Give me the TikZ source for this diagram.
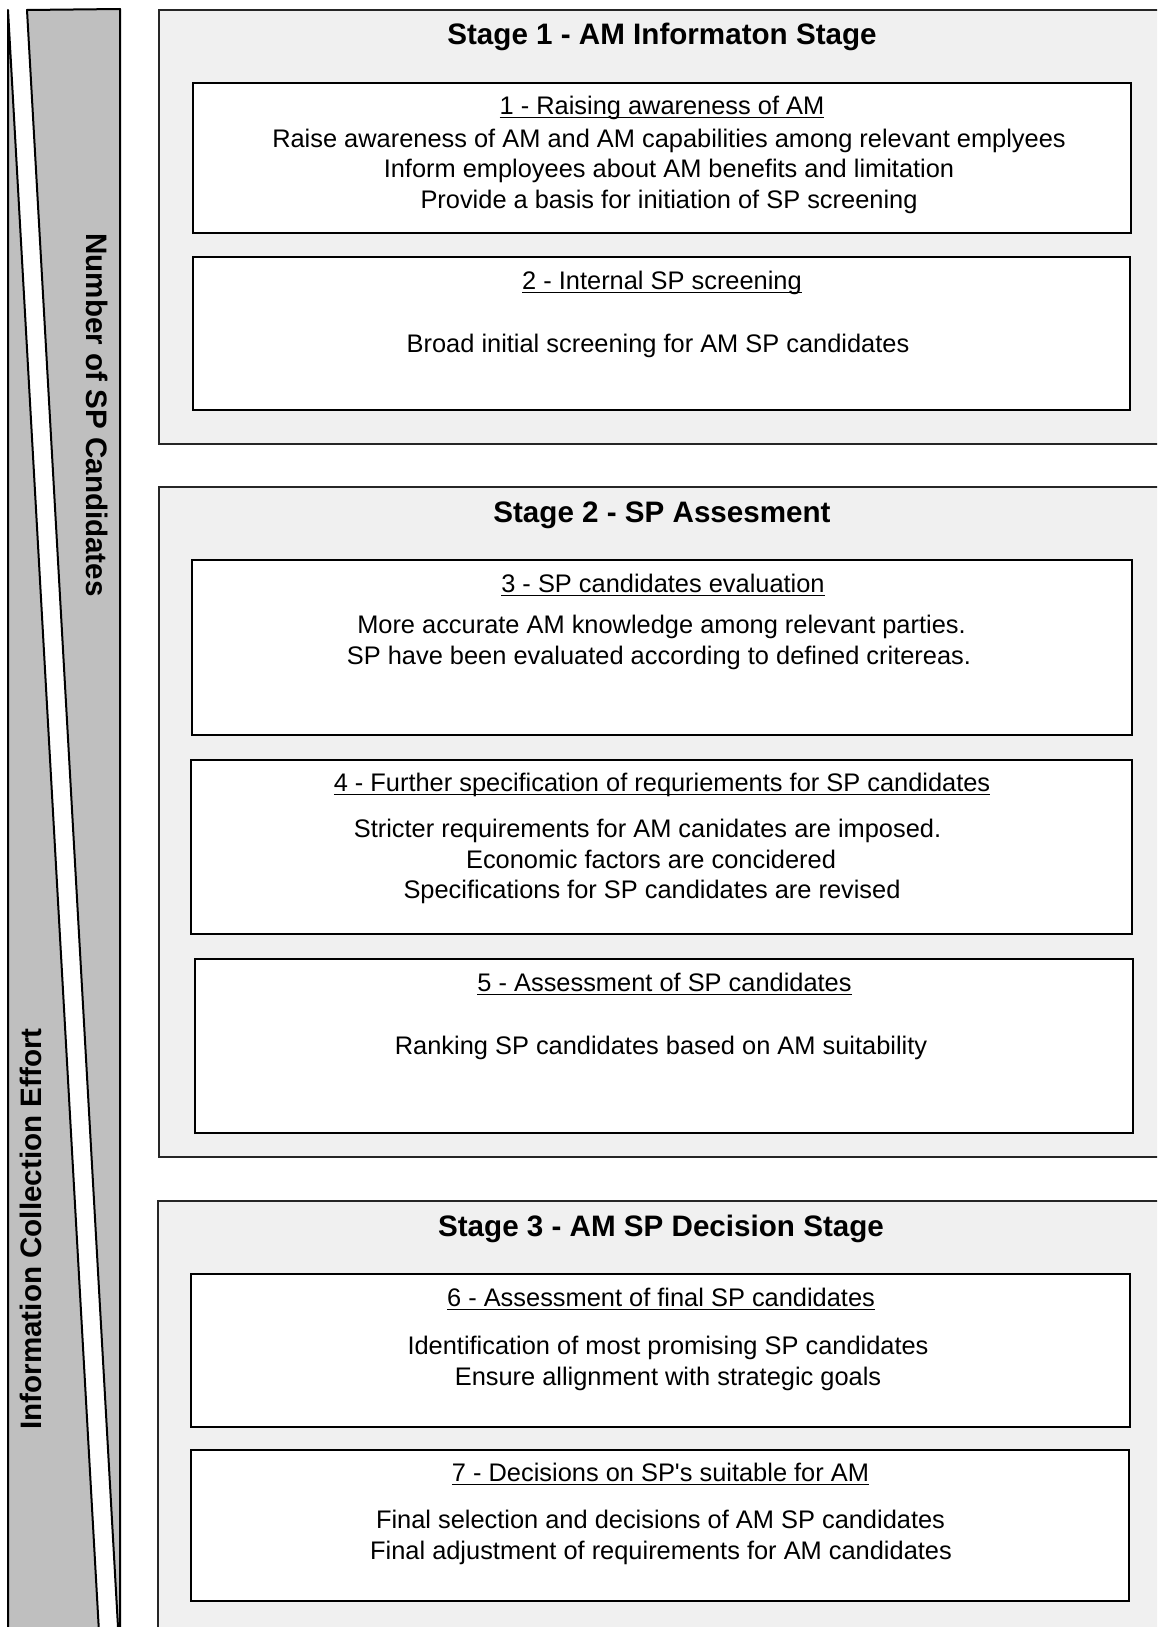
\documentclass[tikz,border=0pt]{standalone}
\usepackage{fontspec}
\setmainfont{Liberation Sans}
\newcommand\myul[1]{\underline{\smash{#1}}\vphantom{#1}}
\begin{document}
\begin{tikzpicture}[x=0.5pt,y=-0.5pt,
  stagebox/.style={draw=black!85, fill=black!6, line width=1pt},
  itembox/.style={draw=black, fill=white, line width=1pt, inner sep=0pt, outer sep=0pt},
  wedge/.style={draw=black, fill=black!25, line width=1pt, line join=round},
  stagetitle/.style={font=\fontsize{14.8}{17}\selectfont\bfseries, inner sep=0pt, text height=0.75em, text depth=0.25em, yshift=-2.3pt},
  itemtitle/.style={font=\fontsize{12.7}{15}\selectfont, inner sep=0pt, text height=0.75em, text depth=0.25em, yshift=-2.3pt},
  itemtext/.style={font=\fontsize{12.7}{15}\selectfont, inner sep=0pt, text height=0.75em, text depth=0.25em, yshift=-2.3pt},
  sidetext/.style={font=\fontsize{14.8}{17}\selectfont\bfseries, inner sep=0pt}]
\useasboundingbox (0,0) rectangle (1157,1627);
\clip (0,0) rectangle (1157,1627);
\fill[white] (0,0) rectangle (1157,1627);

% wedges
\draw[wedge] (8,10) -- (100,1650) -- (8,1650) -- cycle;
\draw[wedge] (27,10) -- (120,9) -- (120,1650) -- (119.3,1650) -- cycle;
\node[sidetext, rotate=-90] (nsp) at (97,415) {Number of SP Candidates};
\node[sidetext, rotate=90] (ice) at (31,1229) {Information Collection Effort};

% stage boxes
\draw[stagebox] (159,10) rectangle (1185,444);
\draw[stagebox] (159,487) rectangle (1185,1157);
\draw[stagebox] (158,1201) rectangle (1185,1660);

\node[stagetitle] (s1) at (662,35) {Stage 1 - AM Informaton Stage};
\node[stagetitle] (s2) at (662,513) {Stage 2 - SP Assesment};
\node[stagetitle] (s3) at (661,1227) {Stage 3 - AM SP Decision Stage};

% item boxes
\node[itembox, minimum width=469pt, minimum height=75pt] (b1) at (662,158) {};
\node[itembox, minimum width=468.5pt, minimum height=76.5pt] (b2) at (661.5,333.5) {};
\node[itembox, minimum width=470pt, minimum height=87.5pt] (b3) at (662,647.5) {};
\node[itembox, minimum width=470.5pt, minimum height=87pt] (b4) at (661.5,847) {};
\node[itembox, minimum width=469pt, minimum height=87pt] (b5) at (664,1046) {};
\node[itembox, minimum width=469.5pt, minimum height=76.5pt] (b6) at (660.5,1350.5) {};
\node[itembox, minimum width=469pt, minimum height=75.5pt] (b7) at (660,1525.5) {};

% box 1
\node[itemtitle] (t1) at (662,105) {\myul{1 - Raising awareness of AM}};
\node[itemtext] (t1a) at (669,138) {Raise awareness of AM and AM capabilities among relevant emplyees};
\node[itemtext] (t1b) at (669,168) {Inform employees about AM benefits and limitation};
\node[itemtext] (t1c) at (669,199) {Provide a basis for initiation of SP screening};
% box 2
\node[itemtitle] (t2) at (662,280) {\myul{2 - Internal SP screening}};
\node[itemtext] (t2a) at (658,343) {Broad initial screening for AM SP candidates};
% box 3
\node[itemtitle] (t3) at (663,583) {\myul{3 - SP candidates evaluation}};
\node[itemtext] (t3a) at (661.5,624) {More accurate AM knowledge among relevant parties.};
\node[itemtext] (t3b) at (659,655) {SP have been evaluated according to defined critereas.};
% box 4
\node[itemtitle] (t4) at (662,782) {\myul{4 - Further specification of requriements for SP candidates}};
\node[itemtext] (t4a) at (647.5,828) {Stricter requirements for AM canidates are imposed.};
\node[itemtext] (t4b) at (651,859) {Economic factors are concidered};
\node[itemtext] (t4c) at (652,889) {Specifications for SP candidates are revised};
% box 5
\node[itemtitle] (t5) at (664.5,982) {\myul{5 - Assessment of SP candidates}};
\node[itemtext] (t5a) at (661,1045) {Ranking SP candidates based on AM suitability};
% box 6
\node[itemtitle] (t6) at (661,1297) {\myul{6 - Assessment of final SP candidates}};
\node[itemtext] (t6a) at (668,1345) {Identification of most promising SP candidates};
\node[itemtext] (t6b) at (668,1376) {Ensure allignment with strategic goals};
% box 7
\node[itemtitle] (t7) at (660.5,1472) {\myul{7 - Decisions on SP\textquotesingle s suitable for AM}};
\node[itemtext] (t7a) at (660.5,1519) {Final selection and decisions of AM SP candidates};
\node[itemtext] (t7b) at (661,1550) {Final adjustment of requirements for AM candidates};
\end{tikzpicture}
\end{document}
